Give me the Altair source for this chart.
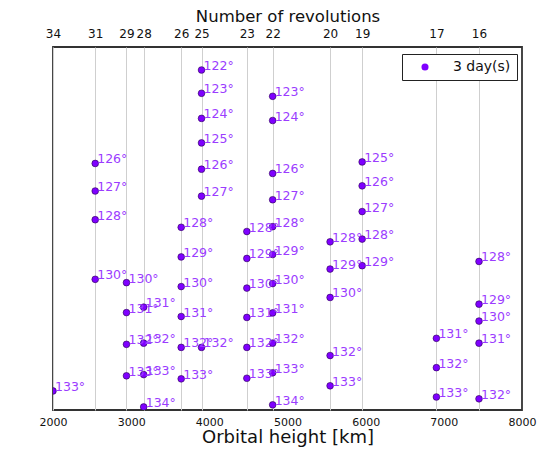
import altair as alt
import pandas as pd

# Orbital heights [km] for each number of revolutions (3-day repeat)
revs = [34, 31, 29, 28, 26, 25, 23, 22, 20, 19, 17, 16]
heights = [2000, 2540, 2940, 3160, 3640, 3900, 4480, 4810, 5545, 5955, 6905, 7450]

# Inclination angles [deg] and continuous coverage [%] per column
angles = {
    2000: [133],
    2540: [126, 127, 128, 130],
    2940: [130, 131, 132, 133],
    3160: [131, 132, 133, 134],
    3640: [128, 129, 130, 131, 132, 133],
    3900: [122, 123, 124, 125, 126, 127, 132],
    4480: [128, 129, 130, 131, 132, 133],
    4810: [123, 124, 126, 127, 128, 129, 130, 131, 132, 133, 134],
    5545: [128, 129, 130, 132, 133],
    5955: [125, 126, 127, 128, 129],
    6905: [131, 132, 133],
    7450: [128, 129, 130, 131, 132],
}
coverage = {
    2000: [75.63],
    2540: [83.15, 82.24, 81.29, 79.32],
    2940: [79.21, 78.22, 77.17, 76.13],
    3160: [78.40, 77.21, 76.17, 75.10],
    3640: [81.04, 80.06, 79.08, 78.09, 77.07, 76.03],
    3900: [86.24, 85.47, 84.64, 83.83, 82.96, 82.07, 77.07],
    4480: [80.90, 80.01, 79.03, 78.06, 77.07, 76.05],
    4810: [85.37, 84.57, 82.82, 81.95, 81.06, 80.14, 79.18, 78.21, 77.21, 76.23, 75.17],
    5545: [80.56, 79.66, 78.72, 76.80, 75.80],
    5955: [83.20, 82.41, 81.56, 80.65, 79.77],
    6905: [77.37, 76.40, 75.43],
    7450: [79.91, 78.50, 77.94, 77.21, 75.37],
}
series = "3 day(s)"
bottom_ticks = [2000, 3000, 4000, 5000, 6000, 7000, 8000]
y_ticks = [76, 78, 80, 82, 84, 86]

rows = []
for h in heights:
    for a, c in zip(angles[h], coverage[h]):
        rows.append({"height": h, "coverage": c, "label": f"{a}°", "series": series})
df = pd.DataFrame(rows)

xscale = alt.Scale(domain=[2000, 8000], nice=False, zero=False)
yscale = alt.Scale(domain=[75, 87], nice=False, zero=False)

label_expr = "[" + ",".join(f"'{r}'" for r in revs) + "][indexof([" + \
    ",".join(str(h) for h in heights) + "], datum.value)]"

points = alt.Chart(df).mark_point(
    filled=True, size=45, opacity=1, stroke="#2a0050", strokeWidth=0.6, clip=True
).encode(
    x=alt.X("height:Q", scale=xscale,
            axis=alt.Axis(title="Orbital height [km]", values=bottom_ticks, grid=False,
                          ticks=False, domain=False, labelPadding=6, labelFontSize=11,
                          titleFontSize=18, titlePadding=1, format="d", labelColor="#111",
                          titleColor="#111", titleFontWeight="normal", labelFlush=False)),
    y=alt.Y("coverage:Q", scale=yscale,
            axis=alt.Axis(title="Continuous coverage [%]", values=y_ticks, grid=False,
                          ticks=False, domain=False, labelPadding=8, labelFontSize=11.5,
                          titleFontSize=16.5, titlePadding=8, labelColor="#111",
                          titleColor="#111", titleFontWeight="normal")),
    color=alt.Color("series:N", scale=alt.Scale(domain=[series], range=["#7f00ff"]),
                    legend=alt.Legend(title=None, orient="none", legendX=349, legendY=7,
                                      fillColor="white", strokeColor="#222",
                                      padding=6, symbolOffset=10, labelOffset=21,
                                      labelFontSize=14, symbolSize=50, symbolType="circle",
                                      labelColor="#111", symbolStrokeWidth=0)),
)

texts = alt.Chart(df).mark_text(
    align="left", baseline="alphabetic", dx=2, dy=0, fontSize=12.5,
    color="#9b3cff", clip=True
).encode(
    x=alt.X("height:Q", scale=xscale,
            axis=alt.Axis(orient="top", title="Number of revolutions", values=heights,
                          labelExpr=label_expr, grid=True, gridColor="#cfcfcf",
                          gridWidth=1, ticks=False, domain=False, labelPadding=7,
                          labelFontSize=12, titleFontSize=16.5, titlePadding=3,
                          labelColor="#111", titleColor="#111",
                          titleFontWeight="normal", labelFlush=False)),
    y=alt.Y("coverage:Q", scale=yscale, axis=None),
    text="label:N",
)

chart = alt.layer(points, texts).resolve_axis(x="independent").properties(
    width=469, height=363,
    autosize=alt.AutoSizeParams(type="none"),
    padding={"left": 53, "top": 47, "right": 15, "bottom": 40},
).configure(font="DejaVu Sans").configure_view(
    stroke="#333", strokeWidth=1.8
)

chart.save("out.html", embed_options={"renderer": "svg", "actions": False})
